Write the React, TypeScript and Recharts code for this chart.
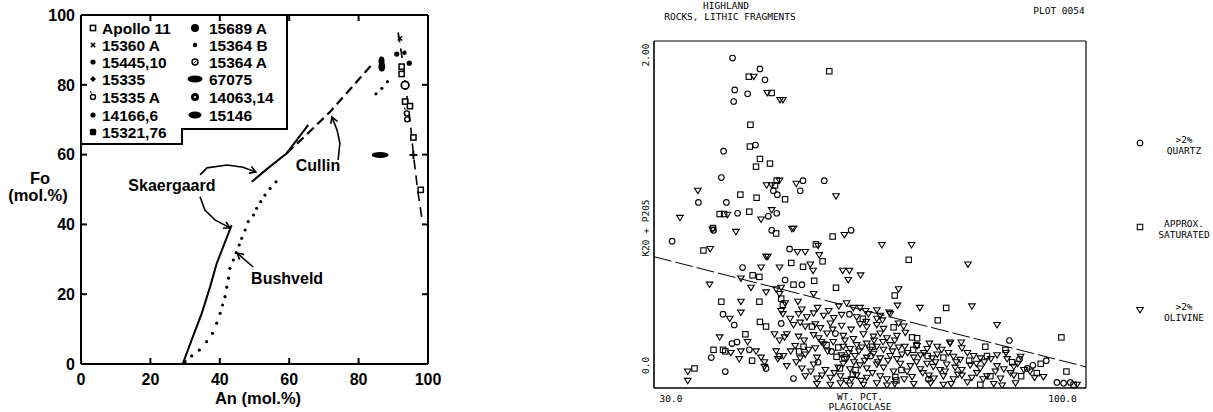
import React from 'react';
import { ScatterChart, Scatter, XAxis, YAxis, Legend, ReferenceLine } from 'recharts';

type P = [number, number];
const toXY = (a: P[]) => a.map(([x, y]) => ({ x, y }));

const BOLD = '"Liberation Sans", Arial, Helvetica, sans-serif';
const MONO = '"DejaVu Sans Mono", "Liberation Mono", monospace';

// ================= LEFT PANEL DATA =================
const anTicks = [0, 20, 40, 60, 80, 100];
const foTicks = [0, 20, 40, 60, 80, 100];
const anDomain: P = [0, 100];
const foDomain: P = [0, 100];

const skaergaardLower: P[] = [[29.3, 0], [31.9, 6.9], [34.8, 14.5], [37.2, 22.1], [39.1, 28.8], [41.0, 33.6], [43.4, 39.8]];
const skaergaardUpper: P[] = [[49.2, 52.2], [54.0, 56.2], [59.3, 60.4], [65.5, 68.5]];
const cullinLine: P[] = [[59.3, 60.4], [65.5, 66.2], [71.8, 72.3], [78.0, 79.2], [84.2, 86.2]];
const bushveldDots: P[] = [
  [30.0, 0.7], [31.9, 2.3], [34.1, 4.0], [36.2, 6.4], [37.9, 8.8], [39.1, 11.7], [40.1, 14.5], [40.8, 16.9],
  [41.5, 19.3], [42.0, 22.0], [42.5, 24.6], [42.9, 27.4], [43.9, 29.8], [44.7, 31.9], [45.6, 34.1], [46.3, 36.0],
  [47.3, 38.4], [48.2, 40.8], [49.7, 42.7], [50.6, 44.6], [51.8, 46.5], [53.0, 48.4], [54.5, 50.3], [56.2, 52.2],
  [85.0, 77.4], [86.7, 79.0], [88.3, 80.9],
];
const lunarTrend: P[] = [[91.4, 95], [92.5, 88], [93.5, 80], [94.8, 70], [95.8, 60], [97.0, 50], [98.2, 42]];

const skUpperArrow: P[] = [[34.3, 54.2], [36.3, 56.2], [42.1, 57.0], [46.7, 56.4], [50.4, 55.0]];
const skUpperHead: P[] = [[49.1, 56.6], [50.4, 55.0], [48.4, 54.7]];
const skLowerArrow: P[] = [[34.3, 47.9], [35.7, 44.1], [38.6, 41.3], [42.9, 39.0]];
const skLowerHead: P[] = [[41.8, 40.7], [42.9, 39.0], [40.9, 38.9]];
const cullinArrow: P[] = [[74.1, 58.5], [74.6, 63.3], [73.8, 67.0], [72.3, 70.8]];
const cullinHead: P[] = [[72.0, 68.8], [72.3, 70.8], [73.9, 69.5]];
const bushArrow: P[] = [[49.6, 27.8], [45.0, 31.8]];
const bushHead: P[] = [[45.7, 29.9], [45.0, 31.8], [47.0, 31.4]];

const annotationLabels = ['Skaergaard', 'Cullin', 'Bushveld'];
const annotationPos: P[] = [[26.2, 51.3], [68.3, 57.0], [59.4, 24.6]];

const sampleNames = ['Apollo 11', '15360 A', '15445,10', '15335', '15335 A', '14166,6', '15321,76',
  '15689 A', '15364 B', '15364 A', '67075', '14063,14', '15146'];
const sampleMarkers = ['sq', 'x', 'dot', 'diam', 'ocirc', 'dot', 'fsq',
  'bigdot', 'smdot', 'ring', 'ellipse', 'blob', 'ellipse2'];
const samplePoints: P[][] = [
  [[92.4, 85.2], [92.4, 83.1], [93.4, 75.2], [94.8, 73.9], [95.8, 64.9], [97.9, 49.9]],
  [[91.9, 93.3]],
  [[91.0, 88.8]],
  [[95.8, 59.9]],
  [[93.9, 71.8], [94.0, 70.1]],
  [[94.6, 86.2]],
  [],
  [[86.7, 85.2]],
  [[93.2, 89.2]],
  [[93.4, 79.9]],
  [[86.2, 59.9]],
  [[86.6, 86.8]],
  [],
];

// ================= RIGHT PANEL DATA =================
const plagTicks = [30, 100];
const kpTicks = [0, 2];
const kpTickLabels = ['0.0', '2.00'];
const plagDomain: P = [26.96, 104.2];
const kpDomain: P = [-0.146, 2.09];
const divider: P[] = [[26.96, 0.70], [104.2, -0.01]];

const quartzPts: P[] = [
  [41.0, 1.98], [45.9, 1.91], [46.8, 1.84], [41.4, 1.775], [43.7, 1.75], [41.2, 1.70],
  [45.1, 1.42], [39.4, 1.38], [39.0, 1.21], [53.6, 1.19], [57.4, 1.19], [53.1, 1.125],
  [48.3, 1.125], [49.0, 1.10], [34.9, 1.05], [39.9, 1.05], [41.9, 0.98], [48.9, 0.98],
  [47.4, 0.96], [37.6, 0.87], [48.0, 0.87], [30.2, 0.80], [62.2, 0.87], [51.2, 0.75],
  [42.8, 0.63], [50.4, 0.55], [53.4, 0.52], [39.3, 0.33], [41.3, 0.26], [49.7, 0.27],
  [40.9, 0.14], [41.8, 0.15], [44.0, 0.10], [37.2, 0.05], [49.4, 0.06], [47.0, -0.02],
  [39.7, -0.04], [61.9, 0.33], [59.4, 0.205], [51.9, -0.085], [90.5, 0.16], [97.1, 0.03],
  [93.7, -0.02], [99.0, -0.11], [100.2, -0.115], [101.4, -0.11],
  [56.3, 0.02], [58.7, 0.09], [65.7, 0.06], [76.0, -0.09], [94.7, 0.0], [92.3, 0.04],
];

const saturatedPts: P[] = [
  [58.3, 1.895], [43.9, 1.86], [48.0, 1.755], [44.2, 1.55], [44.1, 1.41], [45.9, 1.33], [47.7, 1.30],
  [45.2, 1.28], [42.4, 1.10], [45.3, 1.08], [48.9, 1.19], [48.6, 1.16], [50.4, 1.07], [38.7, 0.975],
  [39.5, 0.975], [44.0, 0.99], [37.5, 0.885], [35.8, 0.74], [48.8, 0.85], [51.5, 0.66], [58.9, 0.83],
  [55.9, 0.78], [57.1, 0.67], [53.6, 0.635], [72.5, 0.68], [44.6, 0.58], [45.8, 0.57], [55.6, 0.545],
  [51.9, 0.52], [59.5, 0.50], [70.0, 0.45], [39.0, 0.41], [45.8, 0.41], [49.7, 0.43], [50.0, 0.39],
  [79.2, 0.37], [45.9, 0.28], [47.0, 0.25], [64.3, 0.30], [77.7, 0.29], [43.3, 0.20], [37.6, 0.10],
  [39.3, 0.10], [39.7, 0.09], [44.5, 0.03], [34.2, -0.02], [99.8, 0.18], [89.8, 0.10], [96.1, 0.01],
  [100.7, -0.04], [55.2, 0.25], [69.8, 0.245], [73.1, 0.18], [74.0, 0.175], [53.7, 0.12], [59.9, 0.115],
  [86.2, 0.12], [59.6, 0.055], [78.7, 0.05], [86.5, 0.06], [70.1, -0.075], [87.1, -0.07], [95.4, -0.05],
  [85.3, -0.125], [102.0, -0.125], [73.9, 0.13], [73.3, 0.10], [70.3, -0.097], [60.2, -0.02], [62.5, -0.06],
  [61.0, 0.05], [63.0, -0.03], [66.0, 0.12], [71.2, -0.03], [75.9, 0.06], [83.3, 0.03], [91.0, 0.02],
  [92.6, -0.07], [57.8, 0.13], [52.9, 0.09],
];

const olivinePts: P[] = [
  [44.8, 1.86], [47.2, 1.755], [49.5, 1.71], [50.0, 1.71], [34.8, 1.125], [47.1, 1.16], [48.0, 1.16],
  [49.4, 1.19], [52.4, 1.17], [59.5, 1.09], [40.1, 0.97], [31.6, 0.95], [46.1, 0.94], [48.0, 1.00],
  [51.6, 0.88], [51.9, 0.88], [37.4, 0.875], [41.6, 0.86], [37.0, 0.75], [47.0, 0.70], [46.1, 0.63],
  [42.5, 0.56], [36.9, 0.52], [44.3, 0.50], [47.0, 0.47], [42.5, 0.41], [42.5, 0.34], [38.7, 0.18],
  [43.7, 0.15], [40.7, 0.08], [42.5, 0.09], [42.2, 0.04], [45.2, 0.09], [46.1, 0.05], [46.7, 0.02],
  [46.7, -0.01], [33.0, -0.04], [33.0, -0.10], [40.5, 0.30],
  [61.0, 0.84], [67.7, 0.775], [73.0, 0.775], [52.6, 0.73], [54.0, 0.73], [56.5, 0.71], [56.3, 0.77],
  [54.9, 0.65], [55.4, 0.61], [60.7, 0.61], [61.9, 0.61], [83.1, 0.65], [61.7, 0.55], [63.9, 0.58],
  [70.7, 0.49], [55.5, 0.46], [70.5, 0.385], [74.5, 0.37], [83.8, 0.38], [61.4, 0.40], [62.6, 0.37],
  [63.8, 0.37], [66.8, 0.355], [69.2, 0.33], [67.4, 0.32], [88.3, 0.26], [79.9, 0.147], [81.9, 0.147],
  [48.8, 0.49], [49.7, 0.50], [49.4, 0.46], [49.7, 0.35], [50.0, 0.33], [48.5, 0.20], [49.4, 0.16],
  [50.3, 0.18], [48.8, 0.09], [49.1, 0.04], [49.4, 0.63], [47.3, 0.70], [69.0, 0.34], [52.7, 0.41],
  [64.8, 0.35], [50.4, 0.40],
  [52.8, 0.33], [54.3, 0.31], [55.5, 0.335], [57.3, 0.32], [59.1, 0.305], [60.5, 0.325], [63.2, 0.31], [65.3, 0.33], [66.8, 0.30],
  [51.9, 0.26], [53.1, 0.275], [54.0, 0.25], [55.8, 0.265], [56.7, 0.24], [58.5, 0.27], [60.5, 0.255], [63.8, 0.265],
  [65.0, 0.245], [66.8, 0.26], [68.0, 0.235], [70.7, 0.27], [71.6, 0.25],
  [50.7, 0.20], [52.8, 0.185], [55.5, 0.195], [56.4, 0.175], [57.9, 0.205], [60.8, 0.19], [62.6, 0.17], [64.4, 0.20],
  [66.2, 0.185], [67.4, 0.205], [68.6, 0.175], [70.4, 0.19], [71.9, 0.21],
  [52.2, 0.125], [55.8, 0.11], [57.3, 0.135], [60.8, 0.12], [62.0, 0.105], [63.2, 0.13], [64.1, 0.115], [65.0, 0.14],
  [66.8, 0.12], [68.0, 0.10], [69.2, 0.13], [70.7, 0.115], [74.0, 0.125], [75.8, 0.105], [77.6, 0.12], [79.9, 0.14], [82.0, 0.11],
  [50.1, 0.06], [53.1, 0.045], [54.0, 0.07], [56.1, 0.05], [60.5, 0.065], [61.4, 0.04], [62.9, 0.06], [65.0, 0.05],
  [66.2, 0.075], [67.4, 0.045], [69.2, 0.06], [70.4, 0.04], [71.3, 0.07], [73.4, 0.05], [74.6, 0.065], [76.7, 0.045],
  [77.6, 0.07], [80.5, 0.055], [81.7, 0.035], [84.1, 0.06], [85.3, 0.045], [88.3, 0.065], [90.1, 0.04], [92.5, 0.055],
  [50.7, -0.005], [53.4, -0.02], [55.5, 0.005], [59.9, -0.015], [60.8, 0.01], [62.0, -0.025], [63.8, 0.0], [65.0, -0.02],
  [66.8, 0.005], [68.0, -0.015], [72.8, -0.005], [74.6, -0.025], [75.8, 0.01], [76.9, -0.01], [78.1, -0.03], [79.3, 0.005],
  [80.8, -0.015], [82.0, -0.03], [83.5, 0.0], [85.3, -0.02], [88.3, -0.005], [89.5, -0.025], [91.3, -0.01], [93.1, -0.03],
  [54.0, -0.07], [56.1, -0.085], [57.0, -0.065], [58.5, -0.08], [60.3, -0.07], [62.3, -0.09], [63.2, -0.065], [65.0, -0.08],
  [67.4, -0.07], [68.6, -0.09], [73.1, -0.075], [76.1, -0.065], [77.0, -0.085], [78.7, -0.07], [80.5, -0.09], [82.0, -0.065],
  [83.8, -0.08], [86.5, -0.07], [88.9, -0.085], [91.3, -0.065], [96.6, -0.075],
  [56.1, -0.12], [58.5, -0.125], [60.3, -0.115], [64.4, -0.125], [66.8, -0.115], [68.6, -0.13], [73.4, -0.12],
  [76.4, -0.115], [78.7, -0.125], [87.7, -0.12], [89.2, -0.13], [91.6, -0.115], [102.6, -0.125],
  [58.0, 0.09], [59.0, 0.15], [61.1, 0.16], [61.8, 0.08], [62.7, 0.02], [63.6, 0.09], [64.6, 0.03], [65.6, 0.10],
  [66.3, 0.16], [67.0, 0.02], [67.9, 0.15], [68.8, 0.03], [69.6, 0.09], [70.0, 0.16], [71.0, 0.01], [71.8, 0.12],
  [72.2, -0.04], [69.8, -0.04], [66.0, -0.05], [64.0, -0.10], [61.3, -0.10], [59.2, -0.05], [57.6, -0.03], [55.0, -0.04],
  [52.4, 0.02], [51.4, 0.09], [53.8, 0.16], [54.6, 0.10], [56.9, 0.15], [58.9, 0.23], [62.2, 0.23], [64.9, 0.28],
  [67.8, 0.29], [51.3, 0.30], [53.4, 0.36], [56.2, 0.37], [58.2, 0.35], [60.0, 0.38],
  [72.3, 0.08], [73.9, 0.02], [75.2, 0.08], [76.2, 0.14], [77.3, 0.02], [78.4, 0.10], [79.6, 0.08], [81.0, 0.02],
  [83.0, 0.08], [84.6, 0.01], [86.0, 0.02], [87.2, 0.04], [88.0, -0.04], [89.9, 0.08], [90.7, -0.05], [92.0, 0.01],
  [94.2, -0.04], [95.0, -0.08], [84.7, -0.05], [81.3, -0.06], [79.0, -0.04], [75.0, -0.05], [71.7, -0.09], [70.0, -0.12],
  [62.0, -0.13], [80.1, -0.12], [83.0, -0.11], [85.8, -0.09],
];

const rightLegendShapes = ['circle', 'square', 'triangle'];
const rightLegendLines = [['>2%', 'QUARTZ'], ['APPROX.', 'SATURATED'], ['>2%', 'OLIVINE']];

// ================= STYLE CONSTANTS =================
const L_PLOT_W = 347;
const L_PLOT_H = 349;
const L_TICK = 6;
const L_Y_MARGIN = 6;
const L_X_MARGIN = 10;

// ================= SHAPES =================
function sampleMarker(kind: string, cx: number, cy: number, inPlot: boolean) {
  switch (kind) {
    case 'sq': return <rect x={cx - 2.6} y={cy - 2.6} width={5.2} height={5.2} fill="#fff" stroke="#000" strokeWidth={1.5} />;
    case 'x': return (<g stroke="#000" strokeWidth={1.5}><line x1={cx - 2.2} y1={cy - 2.2} x2={cx + 2.2} y2={cy + 2.2} /><line x1={cx - 2.2} y1={cy + 2.2} x2={cx + 2.2} y2={cy - 2.2} /></g>);
    case 'dot': return <circle cx={cx} cy={cy} r={2.6} fill="#000" />;
    case 'diam': return inPlot
      ? (<g stroke="#000" strokeWidth={2}><line x1={cx - 4} y1={cy} x2={cx + 4} y2={cy} /><line x1={cx} y1={cy - 4} x2={cx} y2={cy + 4} /></g>)
      : <path d={`M${cx} ${cy - 3}L${cx + 3} ${cy}L${cx} ${cy + 3}L${cx - 3} ${cy}Z`} fill="#000" />;
    case 'ocirc': return (<g><circle cx={cx} cy={cy} r={2.5} fill="#fff" stroke="#000" strokeWidth={1.4} /><line x1={cx - 2.5} y1={cy - 6} x2={cx - 1.5} y2={cy - 3.5} stroke="#000" strokeWidth={1} /></g>);
    case 'fsq': return <rect x={cx - 3.2} y={cy - 3.2} width={6.4} height={6.4} rx={1.5} fill="#000" />;
    case 'bigdot': return inPlot ? <ellipse cx={cx} cy={cy} rx={3.4} ry={5} fill="#000" /> : <circle cx={cx} cy={cy} r={4} fill="#000" />;
    case 'smdot': return <circle cx={cx} cy={cy} r={2.2} fill="#000" />;
    case 'ring': return inPlot
      ? <circle cx={cx} cy={cy} r={3.8} fill="#fff" stroke="#000" strokeWidth={1.8} />
      : (<g><circle cx={cx} cy={cy} r={3} fill="#fff" stroke="#000" strokeWidth={1.4} /><line x1={cx - 1.5} y1={cy + 1.5} x2={cx + 1.5} y2={cy - 1.5} stroke="#000" strokeWidth={1} /></g>);
    case 'ellipse': return <ellipse cx={cx} cy={cy} rx={inPlot ? 8.5 : 7.5} ry={inPlot ? 3 : 3.4} fill="#000" />;
    case 'blob': return inPlot
      ? <ellipse cx={cx} cy={cy} rx={3} ry={4.6} fill="#000" />
      : (<g><circle cx={cx} cy={cy} r={4} fill="#000" /><circle cx={cx} cy={cy} r={1.1} fill="#fff" /></g>);
    case 'ellipse2': return <ellipse cx={cx} cy={cy} rx={6.5} ry={3.4} fill="#000" />;
    default: return <g />;
  }
}

function rightMarker(kind: string, cx: number, cy: number) {
  if (kind === 'circle') return <circle cx={cx} cy={cy} r={2.8} fill="none" stroke="#000" strokeWidth={1.1} />;
  if (kind === 'square') return <rect x={cx - 2.7} y={cy - 2.7} width={5.4} height={5.4} fill="none" stroke="#000" strokeWidth={1.1} />;
  return <path d={`M${cx - 3.3} ${cy - 2.5}L${cx + 3.3} ${cy - 2.5}L${cx} ${cy + 2.9}Z`} fill="none" stroke="#000" strokeWidth={1.1} strokeLinejoin="miter" />;
}

const noShape = () => <g />;

// ================= TICKS =================
const LeftYTick = (props: any) => {
  const { x, y, payload } = props;
  const v = payload.value;
  const axisX = x + L_Y_MARGIN;
  const inner = v !== foDomain[0] && v !== foDomain[1];
  return (
    <g>
      <text x={x} y={y} textAnchor="end" dy="0.36em" fontFamily={BOLD} fontWeight={700} fontSize={16} fill="#000">{v}</text>
      {inner && <line x1={axisX} y1={y} x2={axisX + L_TICK} y2={y} stroke="#000" strokeWidth={2} />}
      {inner && <line x1={axisX + L_PLOT_W - L_TICK} y1={y} x2={axisX + L_PLOT_W} y2={y} stroke="#000" strokeWidth={2} />}
    </g>
  );
};

const LeftXTick = (props: any) => {
  const { x, y, payload } = props;
  const v = payload.value;
  const axisY = y - L_X_MARGIN;
  const inner = v !== anDomain[0] && v !== anDomain[1];
  return (
    <g>
      <text x={x} y={y} textAnchor="middle" dy="0.71em" fontFamily={BOLD} fontWeight={700} fontSize={16} fill="#000">{v}</text>
      {inner && <line x1={x} y1={axisY} x2={x} y2={axisY - L_TICK} stroke="#000" strokeWidth={2} />}
      {inner && <line x1={x} y1={axisY - L_PLOT_H} x2={x} y2={axisY - L_PLOT_H + L_TICK} stroke="#000" strokeWidth={2} />}
    </g>
  );
};

const RotTick = (props: any) => {
  const { x, y, payload } = props;
  const idx = kpTicks.indexOf(payload.value);
  return (
    <text x={x} y={y} transform={`rotate(-90 ${x} ${y})`} textAnchor="middle" dy="0.35em" fontFamily={MONO} fontSize={9.5} fill="#000">
      {kpTickLabels[idx]}
    </text>
  );
};

// ================= LEGENDS =================
const leftLegendRowsY = [13, 30, 47, 64, 82, 100, 117];
function LeftLegend() {
  return (
    <svg width={212} height={134} style={{ overflow: 'visible', display: 'block' }}>
      <path d="M0 0 L206 0 L206 114 L101 114 L101 129 L0 129" fill="none" stroke="#000" strokeWidth={2} />
      {sampleNames.map((name, i) => {
        const col = i < 7 ? 0 : 1;
        const row = col === 0 ? i : i - 7;
        const mx = col === 0 ? 12 : 114;
        const tx = col === 0 ? 21 : 128;
        const y = leftLegendRowsY[row];
        return (
          <g key={name}>
            {sampleMarker(sampleMarkers[i], mx, y, false)}
            <text x={tx} y={y + 5.5} fontFamily={BOLD} fontWeight={700} fontSize={15.5} fill="#000">{name}</text>
          </g>
        );
      })}
    </svg>
  );
}

const rightLegendMarkerY = [23, 107, 190];
function RightLegend() {
  return (
    <svg width={88} height={210} style={{ overflow: 'visible', display: 'block' }}>
      {rightLegendShapes.map((s, i) => (
        <g key={s}>
          {rightMarker(s, 15, rightLegendMarkerY[i])}
          {rightLegendLines[i].map((t, j) => (
            <text key={t + j} x={59} y={rightLegendMarkerY[i] - 0.5 + j * 11} textAnchor="middle" fontFamily={MONO} fontSize={9.5} fill="#000">{t}</text>
          ))}
        </g>
      ))}
    </svg>
  );
}

const lineSeries = (data: P[], key: string, width: number, dash?: string) => (
  <Scatter key={key} data={toXY(data)} shape={noShape} isAnimationActive={false} legendType="none"
    fill="none" stroke="#000"
    line={{ stroke: '#000', strokeWidth: width, strokeDasharray: dash, fill: 'none' }} />
);

export default function App() {
  const thick = { stroke: '#000', strokeWidth: 2 };
  return (
    <div style={{ position: 'absolute', left: 0, top: 0, width: 1213, height: 412, background: '#fff', overflow: 'hidden' }}>
      {/* LEFT PANEL */}
      <div style={{ position: 'absolute', left: 0, top: 0 }}>
        <ScatterChart width={450} height={412} margin={{ top: 15, right: 22, left: 0, bottom: 0 }}>
          <XAxis type="number" dataKey="x" domain={anDomain} ticks={anTicks} interval={0} allowDataOverflow
            height={48} tickSize={0} tickMargin={L_X_MARGIN} tickLine={false} axisLine={thick} tick={(p: any) => <LeftXTick {...p} />} />
          <YAxis type="number" dataKey="y" domain={foDomain} ticks={foTicks} interval={0} allowDataOverflow
            width={81} tickSize={0} tickMargin={L_Y_MARGIN} tickLine={false} axisLine={thick} tick={(p: any) => <LeftYTick {...p} />} />
          <ReferenceLine x={anDomain[1]} stroke="#000" strokeWidth={2} ifOverflow="visible" />
          <ReferenceLine y={foDomain[1]} stroke="#000" strokeWidth={2} ifOverflow="visible" />

          {lineSeries(skaergaardLower, 'skl', 2)}
          {lineSeries(skaergaardUpper, 'sku', 2)}
          {lineSeries(cullinLine, 'cul', 2.2, '9 5')}
          {lineSeries(lunarTrend, 'lun', 1.6, '10 6')}
          {lineSeries(skUpperArrow, 'a1', 1.6)}
          {lineSeries(skUpperHead, 'h1', 1.6)}
          {lineSeries(skLowerArrow, 'a2', 1.6)}
          {lineSeries(skLowerHead, 'h2', 1.6)}
          {lineSeries(cullinArrow, 'a3', 1.6)}
          {lineSeries(cullinHead, 'h3', 1.6)}
          {lineSeries(bushArrow, 'a4', 1.6)}
          {lineSeries(bushHead, 'h4', 1.6)}

          <Scatter data={toXY(bushveldDots)} isAnimationActive={false} legendType="none"
            shape={(p: any) => <circle cx={p.cx} cy={p.cy} r={1.6} fill="#000" />} />

          {samplePoints.map((pts, i) => (
            <Scatter key={sampleNames[i]} name={sampleNames[i]} data={toXY(pts)} isAnimationActive={false} legendType="none"
              shape={(p: any) => sampleMarker(sampleMarkers[i], p.cx, p.cy, true)} />
          ))}

          <Scatter data={annotationPos.map(([x, y], i) => ({ x, y, label: annotationLabels[i] }))} isAnimationActive={false} legendType="none"
            shape={(p: any) => (
              <text x={p.cx} y={p.cy} textAnchor="middle" dy="0.36em" fontFamily={BOLD} fontWeight={700} fontSize={16} fill="#000">
                {p.payload.label}
              </text>
            )} />

          <Legend layout="vertical" align="center" verticalAlign="middle" content={() => <LeftLegend />}
            wrapperStyle={{ left: 81, top: 15, width: 212, height: 134 }} />
        </ScatterChart>
      </div>

      {/* RIGHT PANEL */}
      <div style={{ position: 'absolute', left: 560, top: 0 }}>
        <ScatterChart width={653} height={412} margin={{ top: 41, right: 127, left: 0, bottom: 0 }}>
          <XAxis type="number" dataKey="x" domain={plagDomain} ticks={plagTicks} interval={0} allowDataOverflow
            height={24} tickSize={0} tickMargin={7} tickLine={false} axisLine={{ stroke: '#000', strokeWidth: 1.6 }}
            tick={{ fill: '#000', fontSize: 9.5, fontFamily: MONO }} tickFormatter={(v: number) => v.toFixed(1)} />
          <YAxis type="number" dataKey="y" domain={kpDomain} ticks={kpTicks} interval={0} allowDataOverflow
            width={94} tickSize={0} tickMargin={8} tickLine={false} axisLine={{ stroke: '#000', strokeWidth: 1.6 }}
            tick={(p: any) => <RotTick {...p} />} />
          <ReferenceLine x={plagDomain[1]} stroke="#000" strokeWidth={1.2} ifOverflow="visible" />
          <ReferenceLine y={kpDomain[1]} stroke="#000" strokeWidth={1.2} ifOverflow="visible" />

          <ReferenceLine segment={divider.map(([x, y]) => ({ x, y }))} stroke="#000" strokeWidth={1} strokeDasharray="18 4" ifOverflow="visible" />

          <Scatter name=">2% QUARTZ" data={toXY(quartzPts)} isAnimationActive={false} legendType="none"
            shape={(p: any) => rightMarker('circle', p.cx, p.cy)} />
          <Scatter name="APPROX. SATURATED" data={toXY(saturatedPts)} isAnimationActive={false} legendType="none"
            shape={(p: any) => rightMarker('square', p.cx, p.cy)} />
          <Scatter name=">2% OLIVINE" data={toXY(olivinePts)} isAnimationActive={false} legendType="none"
            shape={(p: any) => rightMarker('triangle', p.cx, p.cy)} />

          <Legend layout="vertical" align="center" verticalAlign="middle" content={() => <RightLegend />}
            wrapperStyle={{ left: 565, top: 120, width: 88, height: 210 }} />
        </ScatterChart>
      </div>

      {/* Titles and axis titles */}
      <svg width={1213} height={412} style={{ position: 'absolute', left: 0, top: 0, pointerEvents: 'none' }}>
        <g fontFamily={BOLD} fontWeight={700} fontSize={16.5} fill="#000" textAnchor="middle">
          <text x={40} y={184}>Fo</text>
          <text x={38} y={201}>(mol.%)</text>
          <text x={258} y={404}>An (mol.%)</text>
        </g>
        <g fontFamily={MONO} fontSize={9.5} fill="#000" textAnchor="middle">
          <text x={726} y={9}>HIGHLAND</text>
          <text x={730} y={20}>ROCKS, LITHIC FRAGMENTS</text>
          <text x={1059} y={14}>PLOT 0054</text>
          <text x={860} y={400}>WT. PCT.</text>
          <text x={860} y={410}>PLAGIOCLASE</text>
          <text x={646} y={228} dy="0.35em" transform="rotate(-90 646 228)">K20 + P205</text>
        </g>
      </svg>
    </div>
  );
}
